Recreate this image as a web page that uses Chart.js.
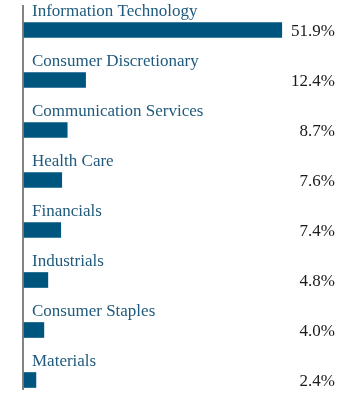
<!DOCTYPE html>
<html><head><meta charset="utf-8">
<script src="https://cdn.jsdelivr.net/npm/chart.js@4/dist/chart.umd.min.js"></script>
<style>html,body{margin:0;padding:0;background:#fff;}#wrap{width:360px;height:396px;position:relative;}</style>
</head><body><div id="wrap"><canvas id="c"></canvas></div>
<script>
const categories = ["Information Technology","Consumer Discretionary","Communication Services","Health Care","Financials","Industrials","Consumer Staples","Materials"];
const values = [51.9, 12.4, 8.7, 7.6, 7.4, 4.8, 4.0, 2.4];
const valueLabels = values.map(v => v.toFixed(1) + "%");

const FONT = "'Liberation Serif', serif";
const labelPlugin = {
  id: 'labels',
  afterDatasetsDraw(chart) {
    const ctx = chart.ctx;
    const ys = chart.scales.y, area = chart.chartArea;
    ctx.save();
    // axis line
    ctx.strokeStyle = '#5a5a5a';
    ctx.lineWidth = 1.5;
    ctx.beginPath();
    ctx.moveTo(area.left - 1, 5);
    ctx.lineTo(area.left - 1, 390);
    ctx.stroke();
    categories.forEach((c, i) => {
      const y = ys.getPixelForValue(i);
      ctx.font = "17px " + FONT;
      ctx.fillStyle = '#1f5a7c';
      ctx.textAlign = 'left';
      ctx.textBaseline = 'alphabetic';
      ctx.fillText(c, area.left + 8, y - 14);
      ctx.fillStyle = '#1a1a1a';
      ctx.textAlign = 'right';
      ctx.textBaseline = 'middle';
      ctx.fillText(valueLabels[i], 335, y + 2);
    });
    ctx.restore();
  }
};

new Chart(document.getElementById('c'), {
  type: 'bar',
  data: { labels: categories, datasets: [{ data: values, backgroundColor: '#00557f', barThickness: 15, clip: false }] },
  options: {
    indexAxis: 'y',
    responsive: true, maintainAspectRatio: false, animation: false,
    layout: { padding: { left: 24, right: 38, top: 30, bottom: 16 } },
    plugins: { legend: { display: false }, tooltip: { enabled: false } },
    scales: {
      x: { display: false, min: 0, max: 60 },
      y: { display: false, offset: false }
    }
  },
  plugins: [labelPlugin]
});
</script></body></html>
